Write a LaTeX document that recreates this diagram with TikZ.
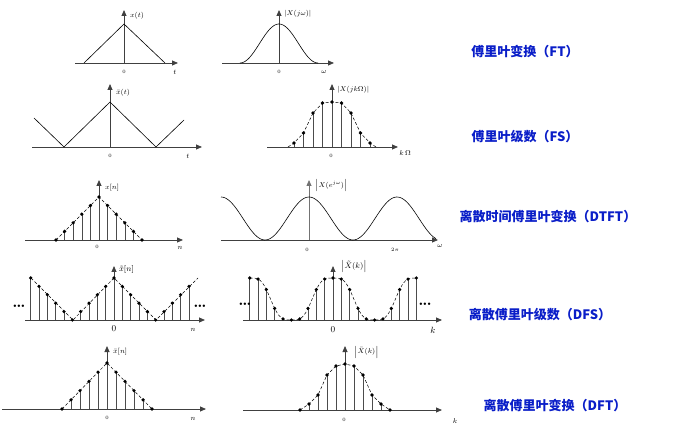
\documentclass[tikz,border=0pt]{standalone}
\usepackage{fontspec}
\newfontfamily\cjk{Noto Sans CJK SC}
\usetikzlibrary{arrows.meta}
\definecolor{lblue}{RGB}{10,30,200}
\tikzset{
 ax/.style={draw=black!75,line width=0.8pt,-{Triangle[length=6pt,width=5pt]}},
 curve/.style={draw=black,line width=0.6pt},
 stem/.style={draw=black!70,line width=0.6pt},
 env/.style={draw=black,dashed,line width=0.5pt,dash pattern=on 3pt off 2pt},
 dot/.style={fill=black},
 lab/.style={font=\scriptsize\itshape,inner sep=1pt},
 zl/.style={font=\tiny,inner sep=1pt},
 title/.style={font=\cjk\bfseries\fontsize{13}{15}\selectfont,text=lblue,inner sep=0pt}
}
\begin{document}
\begin{tikzpicture}[x=1pt,y=-1pt]
\useasboundingbox (0,0) rectangle (690,427);
% Row 1 left
\draw[ax] (75,63) -- (178,63);
\draw[ax] (124,63) -- (124,10);
\draw[curve] (84,63) -- (124,24) -- (165,63);
\node[lab,anchor=west] (l1) at (129,16) {$x(t)$};
\node[zl] at (124,72) {0}; \node[lab] at (175,72) {$t$};
% Row 1 middle
\draw[ax] (222,63) -- (334,63);
\draw[ax] (279,63) -- (279,10);
\draw[curve,domain=240:318,samples=60] plot (\x,{63-39*(1+cos(4.615*(\x-279)))/2});
\node[lab,anchor=west] at (283,14) {$\left|X(j\omega)\right|$};
\node[zl] at (279,72) {0}; \node[lab] at (324,72) {$\omega$};
% Row 2 left
\draw[ax] (32,147) -- (202,147);
\draw[ax] (110,147) -- (110,84);
\draw[curve] (34,118) -- (64,147) -- (110,102) -- (156,147) -- (184,120);
\node[lab,anchor=west] at (115,93) {$\bar{x}(t)$};
\node[zl] at (110,156) {0}; \node[lab] at (188,156) {$t$};
% Row 2 middle
\draw[ax] (267,147) -- (398,147);
\draw[ax] (332,147) -- (332,84);
\foreach \k/\h in {-4/4,-3/14,-2/34,-1/44,0/45,1/44,2/34,3/14,4/4}{
 \draw[stem] ({332+9.5*\k},147) -- ({332+9.5*\k},{147-\h});
 \fill ({332+9.5*\k},{147-\h}) circle (1.8pt);}
\draw[env] (288,147) -- (294,143) -- (303.5,133) -- (313,113) -- (322.5,103) -- (332,102) -- (341.5,103) -- (351,113) -- (360.5,133) -- (370,143) -- (376,147);
\node[lab,anchor=west] at (336,90) {$\left|X(jk\Omega)\right|$};
\node[zl] at (331,156) {0}; \node[lab] at (405,153) {$k\,\Omega$};
% Row 3 left
\draw[ax] (25,240) -- (183,240);
\draw[ax] (99,240) -- (99,180);
\foreach \n in {-5,...,5}{
 \pgfmathsetmacro\h{43*(1-abs(\n)/5)}
 \draw[stem] ({99+8.6*\n},240) -- ({99+8.6*\n},{240-\h});
 \fill ({99+8.6*\n},{240-\h}) circle (1.8pt);}
\draw[env] (56,240) -- (99,197) -- (142,240);
\node[lab,anchor=west] at (104,188) {$x[n]$};
\node[zl] at (97,247) {0}; \node[lab] at (180,248) {$n$};
% Row 3 middle
\draw[ax] (221,240) -- (438,240);
\draw[ax,draw=black!55] (309,240) -- (309,180);
\draw[curve,domain=221:436,samples=120] plot (\x,{240-43*(1+cos(4.0909*(\x-309)))/2});
\node[lab,anchor=west] at (314,186) {$\left|X(e^{j\omega})\right|$};
\node[zl] at (307,250) {0}; \node[zl] at (395,250) {$2\pi$}; \node[lab] at (440,246) {$\omega$};
% Row 4 left
\draw[ax] (25,320) -- (205,320);
\draw[ax] (114,320) -- (114,266);
\foreach \n in {-10,...,9}{
 \pgfmathsetmacro\m{mod(\n+15,10)-5}
 \pgfmathsetmacro\h{42*(1-abs(\m)/5)}
 \draw[stem] ({114+8.33*\n},320) -- ({114+8.33*\n},{320-\h});
 \fill ({114+8.33*\n},{320-\h}) circle (1.8pt);}
\draw[env] (31,278) -- (73,320) -- (114,278) -- (156,320) -- (198,278);
\node[font=\tiny] at (19,306) {$\bullet\!\bullet\!\bullet$};
\node[font=\tiny] at (200,306) {$\bullet\!\bullet\!\bullet$};
\node[font=\footnotesize,inner sep=1pt,anchor=west] at (118,270) {$\tilde{x}[n]$};
\node[font=\small,inner sep=1pt] at (114,329) {0}; \node[lab] at (193,330) {$n$};
% Row 4 middle
\draw[ax] (243,320) -- (442,320);
\draw[ax] (333,320) -- (333,266);
\foreach \k in {-10,...,10}{
 \pgfmathsetmacro\f{(1+cos(36*\k))/2}
 \pgfmathsetmacro\h{42*(3*\f*\f-2*\f*\f*\f)}
 \draw[stem] ({333+8.33*\k},320) -- ({333+8.33*\k},{320-\h});
 \fill ({333+8.33*\k},{320-\h}) circle (1.8pt);}
\draw[env,domain=-10:10,samples=81] plot ({333+8.33*\x},{320-42*(3*((1+cos(36*\x))/2)^2-2*((1+cos(36*\x))/2)^3)});
\node[font=\tiny] at (245,304) {$\bullet\!\bullet\!\bullet$};
\node[font=\tiny] at (425,304) {$\bullet\!\bullet\!\bullet$};
\node[font=\footnotesize,inner sep=1pt,anchor=west] at (340,267) {$\left|\tilde{X}(k)\right|$};
\node[font=\small,inner sep=1pt] at (333,330) {0}; \node[lab,font=\small\itshape] at (433,330) {$k$};
% Row 5 left
\draw[ax] (2,409) -- (206,409);
\draw[ax] (107,409) -- (107,346);
\foreach \n in {-5,...,5}{
 \pgfmathsetmacro\h{46*(1-abs(\n)/5)}
 \draw[stem] ({107+9*\n},409) -- ({107+9*\n},{409-\h});
 \fill ({107+9*\n},{409-\h}) circle (1.8pt);}
\draw[env] (62,409) -- (107,363) -- (152,409);
\node[lab,anchor=west] at (112,352) {$\bar{x}[n]$};
\node[zl] at (107,418) {0}; \node[lab] at (193,419) {$n$};
% Row 5 middle
\draw[ax] (243,410) -- (442,410);
\draw[ax] (345,410) -- (345,346);
\foreach \k/\h in {-5/0,-4/6,-3/15,-2/35,-1/44,0/46,1/44,2/35,3/15,4/6,5/0}{
 \draw[stem] ({345+9*\k},410) -- ({345+9*\k},{410-\h});
 \fill ({345+9*\k},{410-\h}) circle (1.8pt);}
\draw[env] (300,410) -- (309,404) -- (318,395) -- (327,375) -- (336,366) -- (345,364) -- (354,366) -- (363,375) -- (372,395) -- (381,404) -- (390,410);
\node[lab,anchor=west] at (353,352) {$\left|\bar{X}(k)\right|$};
\node[zl] at (344,420) {0}; \node[lab] at (455,421) {$k$};
% Titles
\node[title] (t1) at (525,52) {傅里叶变换（FT）};
\node[title] (t2) at (525,137) {傅里叶级数（FS）};
\node[title] (t3) at (548,217) {离散时间傅里叶变换（DTFT）};
\node[title] (t4) at (540,315) {离散傅里叶级数（DFS）};
\node[title] (t5) at (555,406) {离散傅里叶变换（DFT）};
\end{tikzpicture}
\end{document}
